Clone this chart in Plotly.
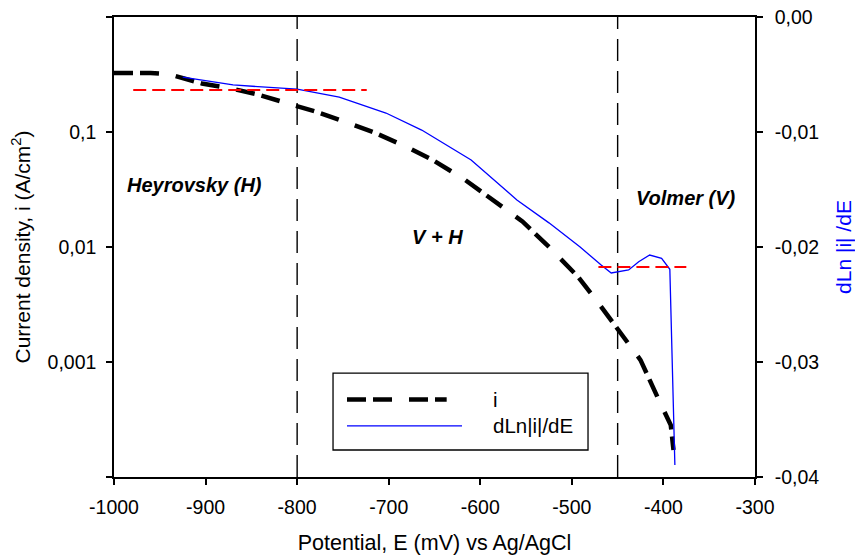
import math
import plotly.graph_objects as go

# Cathodic polarisation: potential (mV vs Ag/AgCl) and current density (A/cm2)
E_i = [-1000, -960, -940, -930, -904, -870, -843, -808, -780, -743, -716, -679,
       -652, -618, -591, -554, -527, -493, -471, -444, -425, -406, -392, -389]
i_vals = [0.326, 0.326, 0.318, 0.302, 0.264, 0.237, 0.212, 0.175, 0.151, 0.1186,
          0.0991, 0.0733, 0.0571, 0.0390, 0.0275, 0.01667, 0.0104, 0.00548,
          0.00326, 0.00165, 0.00104, 0.000486, 0.000283, 0.000172]

# Derivative dLn|i|/dE
E_d = [-925, -870, -800, -754, -703, -664, -610, -560, -525, -491, -468, -457,
       -438, -427, -415, -402, -393, -387.5]
dlni = [-0.00522, -0.00591, -0.00628, -0.00697, -0.00835, -0.00983, -0.01243,
        -0.01591, -0.0179, -0.0200, -0.02157, -0.02226, -0.0220, -0.02128,
        -0.0207, -0.02099, -0.02194, -0.03896]

# Plateau levels of the derivative (Heyrovsky and Volmer regions)
plateau_H_E = [-979, -724]
plateau_H_v = [-0.00635, -0.00635]
plateau_V_E = [-471, -375]
plateau_V_v = [-0.02174, -0.02174]

# Region boundaries (mV)
boundaries = [-800, -450]

# Region labels: (text, E, current density)
regions = [("Heyrovsky (H)", -912, 0.0347),
           ("V + H", -647, 0.0122),
           ("Volmer (V)", -375, 0.0267)]

x_ticks = [-1000, -900, -800, -700, -600, -500, -400, -300]
x_ticktext = [str(v) for v in x_ticks]
y_ticks = [1e-3, 1e-2, 1e-1]
y_ticktext = ["0,001", "0,01", "0,1"]
y_edge_ticks = [1e-4, 1]
y2_ticks = [-0.04, -0.03, -0.02, -0.01, 0.0]
y2_ticktext = ["-0,04", "-0,03", "-0,02", "-0,01", "0,00"]

FONT = "Liberation Sans, Arial, sans-serif"
DASH_I = "19px,7px,19px,17px"

fig = go.Figure()

fig.add_trace(go.Scatter(x=E_i, y=i_vals, mode="lines", name="i",
                         line=dict(color="black", width=4.5, dash=DASH_I),
                         showlegend=False))
fig.add_trace(go.Scatter(x=E_d, y=dlni, mode="lines", name="dLn|i|/dE",
                         line=dict(color="#0000ff", width=1.3),
                         yaxis="y2", showlegend=False))
for ex, vy in ((plateau_H_E, plateau_H_v), (plateau_V_E, plateau_V_v)):
    fig.add_trace(go.Scatter(x=ex, y=vy, mode="lines", yaxis="y2",
                             line=dict(color="#ff0000", width=2.2, dash="13px,6px"),
                             showlegend=False))

for b in boundaries:
    fig.add_shape(type="line", xref="x", yref="paper", x0=b, x1=b, y0=0, y1=1,
                  line=dict(color="black", width=1.4, dash="22px,10px"),
                  layer="below")

for text, ex, iy in regions:
    fig.add_annotation(x=ex, y=math.log10(iy), xref="x", yref="y",
                       text=f"<b><i>{text}</i></b>", showarrow=False,
                       font=dict(family=FONT, size=20, color="black"))

# Legend box with long line samples
lx0, lx1, ly0, ly1 = 0.3417, 0.7395, 0.0587, 0.226
fig.add_shape(type="rect", xref="paper", yref="paper", x0=lx0, x1=lx1, y0=ly0, y1=ly1,
              line=dict(color="black", width=1.3), fillcolor="white", layer="above")
fig.add_shape(type="line", xref="paper", yref="paper", x0=0.3635, x1=0.519,
              y0=0.1685, y1=0.1685, line=dict(color="black", width=4.5, dash=DASH_I),
              layer="above")
fig.add_shape(type="line", xref="paper", yref="paper", x0=0.3635, x1=0.5429,
              y0=0.111, y1=0.111, line=dict(color="#0000ff", width=1.3),
              layer="above")
fig.add_annotation(xref="paper", yref="paper", x=0.5875, y=0.1685,
                   xanchor="left", yanchor="middle",
                   text="i", showarrow=False,
                   font=dict(family=FONT, size=20.5, color="black"))
fig.add_annotation(xref="paper", yref="paper", x=0.5875, y=0.111,
                   xanchor="left", yanchor="middle",
                   text="dLn|i|/dE", showarrow=False,
                   font=dict(family=FONT, size=20.5, color="black"))

axis_common = dict(showgrid=False, zeroline=False, showline=True, linecolor="black",
                   linewidth=1.5, ticks="outside", ticklen=6, tickwidth=1.5,
                   tickcolor="black", automargin=False,
                   tickfont=dict(family=FONT, size=19.5, color="black"))

fig.update_layout(
    width=855, height=557,
    margin=dict(l=114, r=100, t=17, b=80),
    plot_bgcolor="white", paper_bgcolor="white",
    font=dict(family=FONT, size=20, color="black"),
    xaxis=dict(range=[-1000, -300], tickvals=x_ticks, ticktext=x_ticktext,
               mirror=True, ticklabelstandoff=6,
               title=dict(text="Potential, E (mV) vs Ag/AgCl",
                          font=dict(family=FONT, size=21.5), standoff=18),
               **axis_common),
    yaxis=dict(type="log", range=[-4, 0], tickvals=y_ticks, ticktext=y_ticktext,
               ticklabelstandoff=6,
               minor=dict(tickvals=y_edge_ticks, ticks="outside", ticklen=6,
                          tickwidth=1.5, tickcolor="black", showgrid=False),
               title=dict(text="Current density, i (A/cm<sup>2</sup>)",
                          font=dict(family=FONT, size=21), standoff=11),
               **axis_common),
    yaxis2=dict(overlaying="y", side="right", range=[-0.04, 0],
                tickvals=y2_ticks, ticktext=y2_ticktext, ticklabelstandoff=8,
                title=dict(text="dLn |i| /dE",
                           font=dict(family=FONT, size=21, color="#0000ff"),
                           standoff=24),
                **axis_common),
    showlegend=False,
)

fig.write_html("out.html")
